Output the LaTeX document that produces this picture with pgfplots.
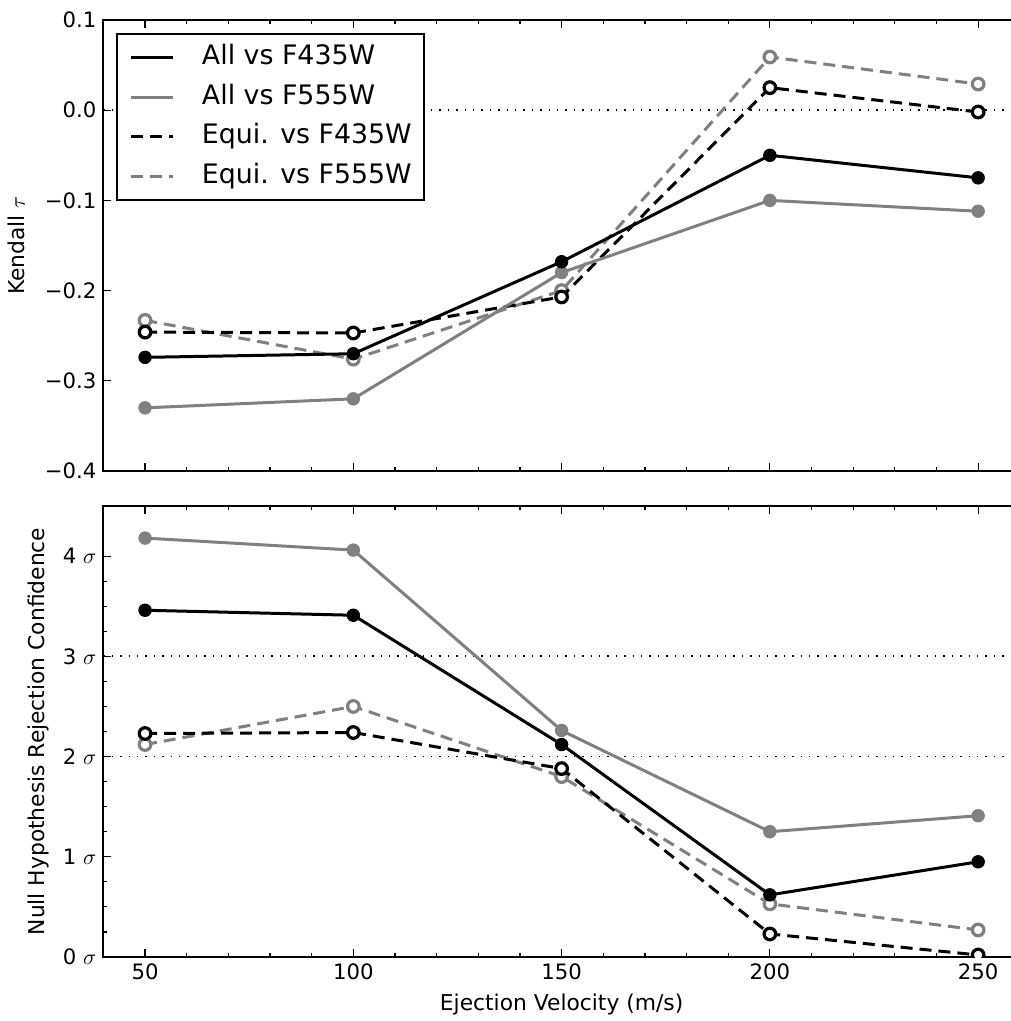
\documentclass[border=0pt]{standalone}
\usepackage{fontspec}
\setmainfont{DejaVu Sans}
\usepackage{pgfplots}
\usepackage{pgfplotstable}
\pgfplotsset{compat=1.18}
\definecolor{mgray}{gray}{0.5}

% Kendall tau
\pgfplotstableread{
v   allB    allV    eqB     eqV
50  -0.274  -0.330  -0.246  -0.233
100 -0.270  -0.320  -0.247  -0.276
150 -0.168  -0.180  -0.207  -0.200
200 -0.050  -0.100  0.025   0.059
250 -0.075  -0.112  -0.002  0.029
}\tautab

% Null hypothesis rejection confidence (sigma)
\pgfplotstableread{
v   allB    allV    eqB     eqV
50  3.46    4.18    2.23    2.12
100 3.41    4.06    2.24    2.50
150 2.12    2.26    1.88    1.80
200 0.62    1.25    0.23    0.53
250 0.95    1.41    0.02    0.27
}\sigtab

\begin{document}
\begin{tikzpicture}
\pgfplotsset{
  every axis/.append style={
    scale only axis, width=458.2bp, height=225.5bp,
    xmin=40, xmax=260,
    xtick={50,100,150,200,250},
    minor x tick num=4,
    major tick length=4bp, minor tick length=2bp,
    every tick/.style={black, line width=0.6bp},
    axis line style={line width=1bp},
    tick label style={font=\fontsize{10.6bp}{12bp}\selectfont},
    label style={font=\fontsize{10.9bp}{12bp}\selectfont},
    clip marker paths=true,
  },
  sB/.style={black, line width=1.5bp, mark=*, mark size=3.1bp, mark options={solid, fill=black, draw=black, line width=0.5bp}},
  sV/.style={mgray, line width=1.5bp, mark=*, mark size=3.1bp, mark options={solid, fill=mgray, draw=mgray, line width=0.5bp}},
  dB/.style={black, line width=1.5bp, dash pattern=on 6bp off 3.5bp, mark=*, mark size=2.9bp, mark options={solid, fill=white, draw=black, line width=1.6bp}},
  dV/.style={mgray, line width=1.5bp, dash pattern=on 6bp off 3.5bp, mark=*, mark size=2.9bp, mark options={solid, fill=white, draw=mgray, line width=1.6bp}},
  dotline/.style={black, line width=0.9bp, dash pattern=on 0.7bp off 3.5bp, forget plot},
}
% Top panel
\begin{axis}[
  ymin=-0.4, ymax=0.1,
  ytick={-0.4,-0.3,-0.2,-0.1,0.0,0.1},
  yticklabels={−0.4,−0.3,−0.2,−0.1,0.0,0.1},
  xticklabels={},
  ylabel={Kendall $\tau$},
  ylabel shift=3bp,
  reverse legend,
  legend cell align=left,
  legend image code/.code={\path (-6.5bp,0bp); \draw[#1, mark=none] (0bp,0bp) -- (21bp,0bp);},
  legend style={at={(axis description cs:0.01375,0.9712)}, anchor=north west,
    draw=black, line width=1bp, fill=white,
    font=\fontsize{13.4bp}{15bp}\selectfont,
    inner xsep=0bp, inner ysep=3.5bp, row sep=2.75bp, column sep=7.5bp,
    nodes={inner xsep=6bp, inner ysep=2bp, text height=10bp, text depth=3bp}},
]
\addplot[dotline] coordinates {(40,0) (260,0)};
\addplot[dV] table[x=v, y=eqV] {\tautab};
\addlegendentry{Equi. vs F555W}
\addplot[dB] table[x=v, y=eqB] {\tautab};
\addlegendentry{Equi. vs F435W}
\addplot[sV] table[x=v, y=allV] {\tautab};
\addlegendentry{All vs F555W}
\addplot[sB] table[x=v, y=allB] {\tautab};
\addlegendentry{All vs F435W}
\end{axis}
% Bottom panel
\begin{axis}[
  at={(0,-243bp)}, anchor=south west,
  ymin=0, ymax=4.5,
  ytick={0,1,2,3,4},
  minor y tick num=3,
  yticklabels={0 $\sigma$,1 $\sigma$,2 $\sigma$,3 $\sigma$,4 $\sigma$},
  xticklabels={50,100,150,200,250},
  ylabel={Null Hypothesis Rejection Confidence},
  xlabel={Ejection Velocity (m/s)},
]
\addplot[dotline] coordinates {(40,2) (260,2)};
\addplot[dotline] coordinates {(40,3) (260,3)};
\addplot[dV] table[x=v, y=eqV] {\sigtab};
\addplot[dB] table[x=v, y=eqB] {\sigtab};
\addplot[sV] table[x=v, y=allV] {\sigtab};
\addplot[sB] table[x=v, y=allB] {\sigtab};
\end{axis}
\pgfresetboundingbox
\useasboundingbox (-51.7bp,-275bp) rectangle (453.8bp,235.5bp);
\end{tikzpicture}
\end{document}
